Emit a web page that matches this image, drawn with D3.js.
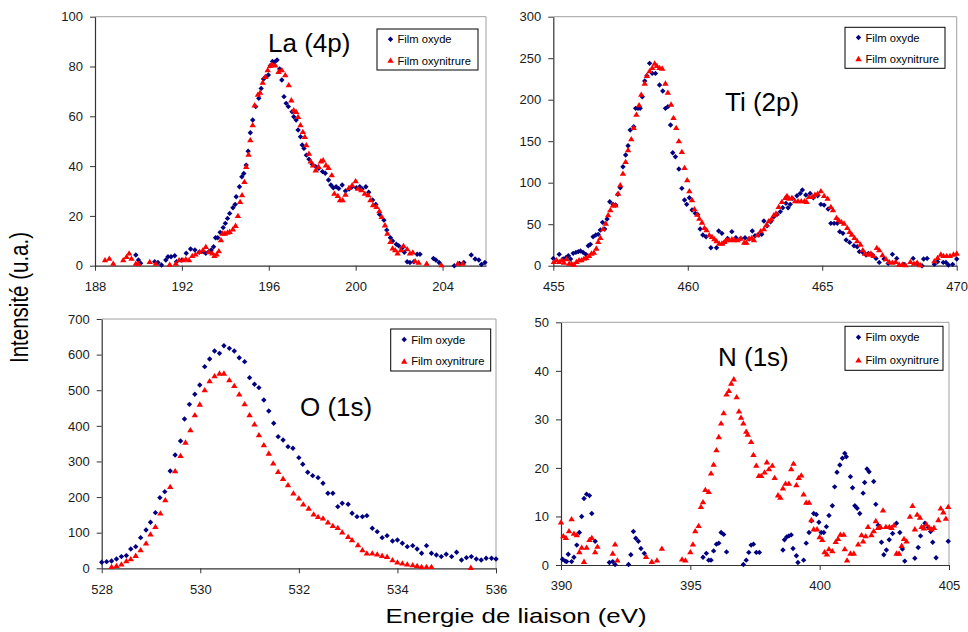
<!DOCTYPE html>
<html><head><meta charset="utf-8">
<script src="https://cdn.jsdelivr.net/npm/d3@7"></script>
<style>
body{margin:0;background:#fff;}
text{font-family:"Liberation Sans",Arial,sans-serif;}
</style></head><body>
<svg id="c" width="968" height="632"></svg>
<script>
const seriesNames = ["Film oxyde", "Film oxynitrure"];
const xTitle = "Energie de liaison (eV)";
const yTitle = "Intensité (u.a.)";

// ---- La (4p) ----
const laTicksX = [188, 192, 196, 200, 204];
const laTicksY = [0, 20, 40, 60, 80, 100];
const laOxyde = [[189.88,4.3],[190.0,2.3],[190.1,1],[190.75,1.6],[190.9,1.3],[191.06,0.3],[191.26,2.3],[191.36,3.6],[191.5,3.6],[191.67,4],[191.75,1.6],[192,2.3],[192.2,5],[192.4,6.7],[192.6,6.3],[192.8,5.4],[193,5.6],[193.1,5],[193.24,5.6],[193.35,6.3],[193.46,7.6],[193.55,11.2],[193.65,11.2],[193.76,13.4],[193.9,15.3],[194,17],[194.1,19],[194.2,21],[194.35,23.3],[194.45,24.6],[194.5,27.7],[194.65,31.7],[194.76,35.7],[194.85,37],[194.96,40.4],[195.05,46],[195.15,53.4],[195.26,58.5],[195.4,63.9],[195.54,67.2],[195.65,71.2],[195.76,75],[195.86,75.9],[195.98,76.6],[196.07,80.3],[196.17,82],[196.26,81.7],[196.38,82.6],[196.5,79],[196.6,74.6],[196.7,67.9],[196.8,65.2],[196.9,63.9],[197.07,61.8],[197.15,59.8],[197.26,58.5],[197.35,54.5],[197.46,51.8],[197.54,48.5],[197.62,47.1],[197.73,44.4],[197.85,42.8],[198,40.7],[198.16,39.8],[198.3,39.1],[198.47,37.8],[198.6,37.1],[198.75,34.4],[198.86,32.4],[198.97,31.3],[199.1,31.7],[199.22,31],[199.38,32.4],[199.53,30],[199.7,30.8],[199.84,31.7],[200.03,31.3],[200.19,31.7],[200.3,30.8],[200.47,31.7],[200.6,29.5],[200.78,26.4],[200.93,24.6],[201.1,20.6],[201.3,18.3],[201.43,14.3],[201.6,11.2],[201.7,9.9],[201.87,8.6],[201.98,8],[202.13,7],[202.24,5.4],[202.37,1.6],[202.5,1.3],[202.68,1.6],[202.83,4.6],[202.96,4.6],[203.58,2.9],[203.69,2.3],[203.84,1.3],[204.54,0],[204.78,0.9],[204.98,1.3],[205.32,4.3],[205.5,2.7],[205.67,2.3],[205.79,0.5],[205.95,1.3]];
const laOxynitrure = [[188.46,2.3],[188.66,2.9],[188.84,0.9],[189.3,2.3],[189.45,3.6],[189.57,5],[189.68,2.9],[189.88,0.9],[190.0,0.9],[190.52,1.6],[190.8,0.9],[191.44,0.5],[191.72,0.9],[191.87,2.3],[192.05,2.3],[192.18,2.7],[192.33,2.3],[192.48,4],[192.63,4.6],[192.82,5.6],[192.97,6.3],[193.1,7.6],[193.24,5.6],[193.4,5],[193.5,4],[193.6,4.6],[193.7,5.9],[193.8,10.3],[193.87,13],[193.98,13],[194.1,13.4],[194.2,13.7],[194.35,14.7],[194.47,16.1],[194.58,20.1],[194.68,25.7],[194.77,28.4],[194.88,33.7],[194.96,39.8],[195.07,44.7],[195.15,50.5],[195.26,56.5],[195.35,64.5],[195.5,68.8],[195.6,69.6],[195.72,73.6],[195.84,75.9],[195.95,78.6],[196.06,80.3],[196.14,80.9],[196.3,80.5],[196.45,77.9],[196.6,78.6],[196.76,76.6],[196.92,72.6],[197.04,66.5],[197.15,62.5],[197.26,61.8],[197.35,59.8],[197.46,56.5],[197.57,53.8],[197.66,51.8],[197.73,48.5],[197.85,45.1],[197.93,42],[198.04,40.4],[198.16,38.4],[198.29,39.8],[198.4,42],[198.5,42.4],[198.63,40.4],[198.75,39.4],[198.9,36.4],[199.02,29],[199.18,28.1],[199.28,26.4],[199.4,26.4],[199.53,28.6],[199.69,31.3],[199.84,32.4],[200,34],[200.1,31],[200.26,30.4],[200.42,29],[200.58,28.4],[200.68,26.4],[200.8,24.4],[200.96,23.7],[201.09,22],[201.2,19.7],[201.35,16.3],[201.46,13],[201.6,9.6],[201.7,7],[201.82,6.3],[201.93,5],[202.08,6.3],[202.2,8],[202.37,6.7],[202.5,5],[202.63,5.4],[202.74,1.9],[202.9,1.3],[203.27,0.9],[203.95,0.3],[204.7,0.9],[204.93,0.9]];

// ---- Ti (2p) ----
const tiTicksX = [455, 460, 465, 470];
const tiTicksY = [0, 50, 100, 150, 200, 250, 300];
const tiOxyde = [[455,8.8],[455.22,13.7],[455.37,8],[455.47,9.6],[455.56,12],[455.64,8],[455.74,14.9],[455.84,16],[455.93,16.9],[456.01,17.7],[456.11,16],[456.21,13.7],[456.3,24.1],[456.38,25.7],[456.48,34.9],[456.58,36.9],[456.67,37.8],[456.75,43],[456.83,52.2],[456.91,44.2],[457,56.2],[457.1,77.1],[457.22,73.9],[457.32,73],[457.4,86],[457.49,94],[457.59,119.3],[457.69,133.3],[457.78,144.6],[457.86,163.5],[457.99,167.5],[458.06,189.6],[458.15,189.6],[458.23,189.6],[458.31,203.6],[458.4,222.5],[458.48,228.9],[458.58,243.8],[458.68,231.7],[458.8,231.7],[458.95,217.7],[459.07,210.4],[459.17,189.6],[459.26,191.6],[459.36,169.5],[459.44,136.1],[459.54,131.3],[459.67,116.5],[459.78,93.2],[459.88,79.1],[459.96,73.9],[460.06,81.9],[460.16,67.1],[460.28,63.1],[460.37,61.8],[460.46,44.2],[460.56,36.9],[460.68,34.9],[460.86,21.7],[461.07,21.7],[461.15,41.8],[461.27,39],[461.36,28.1],[461.48,32.9],[461.64,41],[461.79,33.7],[461.97,32.9],[462.13,33.7],[462.28,32.1],[462.4,41.8],[462.5,36.1],[462.62,36.9],[462.75,37.8],[462.83,53.8],[462.95,48.2],[463.08,53],[463.2,59],[463.32,61.8],[463.44,65.1],[463.53,69.9],[463.65,75.1],[463.73,69.9],[463.81,73.9],[463.9,81.1],[464.06,84.3],[464.18,87.1],[464.26,91.2],[464.39,85.1],[464.55,87.1],[464.67,81.9],[464.83,84.3],[464.95,73.9],[465.07,73],[465.22,68.3],[465.32,51],[465.44,51],[465.56,51],[465.65,41],[465.77,39],[465.89,30.9],[466.02,28.1],[466.18,24.1],[466.3,22.9],[466.38,16.9],[466.51,16],[466.63,12.9],[466.72,14.9],[466.87,12.9],[467,8.8],[467.12,4],[467.3,8],[467.45,2.8],[467.61,13.7],[467.77,8.8],[468.04,1.6],[468.38,8.8],[468.53,2.8],[468.71,0],[468.77,8],[468.9,8.8],[469.17,1.6],[469.29,4.8],[469.5,4],[469.6,4],[469.69,0.8],[469.85,1.6],[470,8]];
const tiOxynitrure = [[455.02,4.8],[455.12,6.8],[455.22,4.8],[455.31,6.8],[455.4,4],[455.49,8],[455.59,2.8],[455.68,2.8],[455.77,1.6],[455.86,4.8],[455.96,6.8],[456.05,6.8],[456.14,8.8],[456.23,9.6],[456.33,12],[456.42,14.9],[456.51,16],[456.6,20.9],[456.67,28.9],[456.75,33.7],[456.85,44.2],[456.95,51],[457.04,61],[457.12,67.1],[457.22,73],[457.31,73],[457.41,87.1],[457.49,97.2],[457.59,111.2],[457.69,125.3],[457.78,139.4],[457.9,152.6],[457.99,166.3],[458.09,182.3],[458.19,193.6],[458.27,206.4],[458.4,219.7],[458.48,228.9],[458.58,234.5],[458.68,238.6],[458.77,243.8],[458.85,241],[458.95,238.6],[459.05,237.8],[459.17,219.7],[459.26,208.8],[459.38,194.4],[459.47,178.3],[459.57,166.3],[459.67,150.2],[459.78,137.3],[459.88,118.1],[459.98,103.2],[460.06,90],[460.16,79.1],[460.25,68.3],[460.35,61.8],[460.43,57],[460.53,52.2],[460.62,45.8],[460.7,43],[460.8,36.9],[460.9,34.9],[460.99,32.1],[461.07,29.7],[461.17,26.9],[461.27,26.9],[461.36,28.9],[461.44,30.9],[461.54,30.9],[461.64,32.1],[461.73,30.9],[461.85,30.9],[461.97,32.9],[462.1,28.1],[462.18,28.1],[462.28,32.9],[462.38,33.7],[462.46,30.9],[462.59,36.9],[462.71,41.8],[462.83,44.2],[462.92,49],[463.01,53.8],[463.11,56.2],[463.2,61],[463.28,63.1],[463.38,71.1],[463.5,77.1],[463.63,81.9],[463.69,84.3],[463.77,81.1],[463.87,81.9],[463.99,77.9],[464.1,77.9],[464.22,77.9],[464.34,77.9],[464.42,77.1],[464.51,83.1],[464.63,83.1],[464.73,85.9],[464.83,87.1],[464.95,90],[465.07,84.3],[465.2,81.1],[465.32,71.1],[465.4,67.1],[465.53,57.8],[465.61,55],[465.71,53],[465.81,51],[465.93,45.8],[466.02,41],[466.1,37.8],[466.2,33.7],[466.3,29.7],[466.42,25.7],[466.51,18.9],[466.59,14.9],[466.72,13.7],[466.81,14.9],[466.91,12],[467.03,21.7],[467.12,18.9],[467.24,12.9],[467.37,8],[467.49,4.8],[467.61,4],[467.73,4.8],[467.86,1.6],[467.98,1.6],[468.1,0.8],[468.28,4.8],[468.41,2.8],[468.53,4],[468.65,0.8],[469.17,5.6],[469.29,9.6],[469.41,13.7],[469.51,12],[469.63,12],[469.75,12],[469.88,13.7],[470,14.9]];

// ---- O (1s) ----
const oTicksX = [528, 530, 532, 534, 536];
const oTicksY = [0, 100, 200, 300, 400, 500, 600, 700];
const oOxyde = [[528,16.8],[528.1,18.7],[528.2,20.6],[528.3,26.2],[528.4,32.8],[528.5,35.6],[528.59,54.3],[528.69,60.8],[528.79,86.1],[528.9,107.6],[528.99,129.1],[529.09,156.3],[529.18,198.4],[529.28,215.2],[529.39,273.3],[529.49,318.2],[529.6,357.5],[529.68,419.2],[529.78,460.4],[529.89,488.5],[529.99,514.7],[530.09,566.2],[530.19,587.7],[530.29,610.2],[530.39,603.6],[530.48,625.1],[530.59,617.6],[530.69,610.2],[530.79,591.4],[530.9,580.2],[531,535.3],[531.1,516.6],[531.19,507.2],[531.29,472.6],[531.39,441.7],[531.49,407.1],[531.58,369.6],[531.68,360.3],[531.78,341.6],[531.88,336.9],[532,310.7],[532.08,292],[532.18,269.5],[532.28,260.2],[532.39,254.5],[532.49,238.6],[532.59,210.6],[532.69,210.6],[532.79,173.1],[532.88,182.5],[533,179.7],[533.08,154.4],[533.18,145],[533.29,145],[533.38,147.9],[533.49,112.3],[533.59,102.9],[533.69,86.1],[533.79,91.7],[533.9,76.7],[534,79.5],[534.1,70.2],[534.2,60.8],[534.31,63.6],[534.4,54.3],[534.49,42.1],[534.59,63.6],[534.69,42.1],[534.79,37.4],[534.89,32.8],[534.99,39.3],[535.1,32.8],[535.2,44.9],[535.3,23.4],[535.4,29.9],[535.5,32.8],[535.6,26.2],[535.7,23.4],[535.8,28.1],[535.91,28.1],[536,26.2]];
const oOxynitrure = [[528.2,4.7],[528.3,7.5],[528.4,11.2],[528.5,20.6],[528.59,26.2],[528.69,35.6],[528.79,51.5],[528.9,70.2],[528.99,95.5],[529.09,117],[529.19,154.4],[529.29,191.8],[529.39,229.3],[529.49,273.3],[529.6,316.3],[529.7,353.7],[529.8,388.4],[529.89,430.5],[529.99,460.4],[530.09,500.7],[530.19,525.9],[530.29,540],[530.39,547.4],[530.48,547.4],[530.59,528.7],[530.69,512.8],[530.79,488.5],[530.9,461.3],[531,430.5],[531.1,404.3],[531.19,374.3],[531.29,346.3],[531.39,322.8],[531.48,294.8],[531.58,271.4],[531.68,251.8],[531.78,234],[531.89,210.6],[532,196.5],[532.09,179.7],[532.2,168.4],[532.3,151.6],[532.39,145],[532.49,140.4],[532.59,129.1],[532.69,119.8],[532.79,114.2],[532.88,101.1],[533,88.9],[533.08,79.5],[533.2,65.5],[533.29,51.5],[533.38,42.1],[533.49,42.1],[533.59,39.3],[533.69,35.6],[533.79,32.8],[533.9,23.4],[534,16.8],[534.1,14],[534.2,11.2],[534.31,9.4],[534.4,7.5],[534.49,4.7],[534.59,4.7],[534.69,4.7],[535.49,1.9]];

// ---- N (1s) ----
const nTicksX = [390, 395, 400, 405];
const nTicksY = [0, 10, 20, 30, 40, 50];
const nOxyde = [[390.06,1.2],[390.16,0.8],[390.22,0.7],[390.28,2.2],[390.41,0.7],[390.5,1.6],[390.61,4.1],[390.71,6.7],[390.8,10],[390.89,13.7],[390.99,14.6],[391.1,14.3],[391.19,10.6],[391.32,4.9],[391.87,0.5],[392,0.7],[392.09,0.1],[392.61,0.1],[392.7,2.1],[392.8,6.9],[392.89,5.5],[392.99,4.9],[393.09,3.4],[393.22,2.4],[395.49,1.6],[395.62,2.4],[395.71,1],[395.8,1],[395.9,2.9],[396.01,4.3],[396.1,4.5],[396.19,6.7],[396.29,6.3],[396.4,2.7],[397.05,0.1],[397.16,1],[397.26,2.6],[397.35,4.1],[397.44,4.3],[397.55,2.6],[397.67,2.6],[398.58,3.1],[398.64,5.2],[398.73,5.8],[398.81,6],[398.9,6.2],[398.97,3.4],[399.1,1.9],[399.16,0.5],[399.38,1],[399.48,4.5],[399.59,6.7],[399.68,9.1],[399.77,10.6],[399.87,10.4],[399.97,8.8],[400.06,6.7],[400.16,6.7],[400.26,7.9],[400.36,10.2],[400.49,12.2],[400.58,16.1],[400.67,19.1],[400.78,20.6],[400.88,22],[400.97,23],[401.03,22.3],[401.19,18.2],[401.27,15.9],[401.36,12.2],[401.45,11.7],[401.55,10.6],[401.68,14.8],[401.74,17],[401.83,19.8],[401.91,19.2],[402.09,17.2],[402.17,12.5],[402.26,8.2],[402.39,4.7],[402.48,2.1],[402.58,3.1],[402.69,5.2],[402.82,6.5],[402.97,8.6],[403.1,6.7],[403.2,3.3],[403.29,0.8],[403.68,1.4],[403.81,3.6],[403.9,6],[404,7.7],[404.07,8.6],[404.2,7.7],[404.29,6.9],[404.37,4.7],[404.5,1.5],[404.97,4.9]];
const nOxynitrure = [[390,8.8],[390.09,6],[390.19,5.6],[390.31,7],[390.41,9.5],[390.5,6.5],[390.61,6.2],[390.71,2.7],[390.8,3.6],[390.89,0.7],[390.99,3.6],[391.1,5.2],[391.19,5.6],[391.32,2.7],[391.41,3.8],[392,2.4],[392.09,4.3],[392.18,1],[393.29,1.7],[393.51,0.7],[393.71,1],[393.9,3.4],[394.68,1.2],[394.81,1],[395,2.7],[395.1,4.3],[395.19,7],[395.32,8.1],[395.41,12],[395.49,13],[395.58,15.5],[395.71,15.1],[395.8,18.9],[395.9,20.7],[396.01,23.7],[396.1,26.4],[396.19,29.2],[396.29,31.3],[396.4,35.2],[396.49,35.9],[396.58,37.4],[396.68,38.3],[396.79,34.6],[396.88,31.7],[396.96,30.4],[397.05,29.2],[397.16,27.5],[397.22,26.9],[397.35,25.4],[397.44,22.7],[397.55,20.5],[397.65,18.4],[397.74,18.4],[397.87,19.1],[397.96,21.2],[398.04,19.8],[398.17,20.5],[398.26,18],[398.39,14.4],[398.48,13.9],[398.58,15.8],[398.68,16.8],[398.81,16.8],[398.9,19.8],[398.99,20.9],[399.1,16.5],[399.19,18],[399.29,18.5],[399.38,14.6],[399.48,12.9],[399.59,12.9],[399.68,9.3],[399.77,7.4],[399.9,7.4],[400,5.8],[400.1,5.2],[400.19,2.7],[400.28,2.2],[400.36,3.3],[400.49,2.9],[400.62,4.8],[400.71,5.4],[400.8,6.3],[400.93,6.3],[400.97,3.3],[401.06,1],[401.19,2.4],[401.32,2.4],[401.49,4.3],[401.62,6.2],[401.68,4.9],[401.78,6],[401.87,7.9],[402,6.2],[402.09,7],[402.17,9.1],[402.26,7.7],[402.35,7.9],[402.45,11.3],[402.56,7.9],[402.69,7.9],[402.78,7.7],[402.87,8.2],[402.97,2.4],[403.07,2.4],[403.17,4],[403.26,5.4],[403.36,4.9],[403.49,10],[403.59,12.2],[403.68,7.4],[403.77,10.4],[403.88,9.8],[403.94,7.9],[404.03,7.6],[404.13,8.4],[404.24,7.7],[404.33,7.4],[404.42,7.7],[404.59,9.3],[404.68,11.7],[404.78,10.9],[404.88,9.6],[404.97,12]];

// ---- layout ----
const FONT = "'Liberation Sans', Arial, sans-serif";
const panels = [
  {title:"La (4p)", xDom:[188,206], yDom:[0,100], xt:laTicksX, yt:laTicksY, s1:laOxyde, s2:laOxynitrure,
   box:{l:95,r:486,t:16.7,b:265.7}, titleXY:[268,52], leg:{x:377,y:29,w:101,h:41}},
  {title:"Ti (2p)", xDom:[455,470], yDom:[0,300], xt:tiTicksX, yt:tiTicksY, s1:tiOxyde, s2:tiOxynitrure,
   box:{l:553.3,r:956.7,t:16.7,b:265.7}, titleXY:[725,111], leg:{x:845,y:27.3,w:100,h:41}},
  {title:"O (1s)", xDom:[528,536], yDom:[0,700], xt:oTicksX, yt:oTicksY, s1:oOxyde, s2:oOxynitrure,
   box:{l:101.7,r:496,t:319,b:568.3}, titleXY:[300,416], leg:{x:390.7,y:329,w:100,h:42}},
  {title:"N (1s)", xDom:[390,405], yDom:[0,50], xt:nTicksX, yt:nTicksY, s1:nOxyde, s2:nOxynitrure,
   box:{l:561,r:949,t:322.3,b:565}, titleXY:[718,366], leg:{x:845,y:326.3,w:98,h:44}}
];

const BLUE = "#000080", RED = "#ff0000";
const diamond = "M0,-2.7L2.7,0L0,2.7L-2.7,0Z";
const triangle = "M0,-3L3.2,2.3L-3.2,2.3Z";

const svg = d3.select("#c");
svg.append("rect").attr("width",968).attr("height",632).attr("fill","#fff");

panels.forEach(p => {
  const x = d3.scaleLinear().domain(p.xDom).range([p.box.l, p.box.r]);
  const y = d3.scaleLinear().domain(p.yDom).range([p.box.b, p.box.t]);
  const g = svg.append("g");

  g.append("path")
    .attr("d", `M${p.box.l},${p.box.t}H${p.box.r}V${p.box.b}`)
    .attr("fill","none").attr("stroke","#a0a0a0").attr("stroke-width",1);

  const ax = g.append("g").attr("transform",`translate(0,${p.box.b})`)
    .call(d3.axisBottom(x).tickValues(p.xt).tickSize(5).tickSizeOuter(0).tickPadding(11).tickFormat(d3.format("d")));
  const ay = g.append("g").attr("transform",`translate(${p.box.l},0)`)
    .call(d3.axisLeft(y).tickValues(p.yt).tickSize(5).tickSizeOuter(0).tickPadding(7).tickFormat(d3.format("d")));
  [ax, ay].forEach(a => {
    a.attr("font-family", FONT).attr("font-size", 13);
    a.select(".domain").attr("stroke","#333").attr("stroke-width",1.2);
    a.selectAll(".tick line").attr("stroke","#333");
    a.selectAll(".tick text").attr("fill","#1a1a1a").style("font-size","13px").style("font-family", FONT);
  });

  g.append("g").selectAll("path").data(p.s1).join("path")
    .attr("d", diamond).attr("fill", BLUE)
    .attr("transform", d => `translate(${x(d[0])},${y(d[1])})`);
  g.append("g").selectAll("path").data(p.s2).join("path")
    .attr("d", triangle).attr("fill", RED)
    .attr("transform", d => `translate(${x(d[0])},${y(d[1])})`);

  g.append("text").attr("x", p.titleXY[0]).attr("y", p.titleXY[1])
    .style("font-size","26px").style("font-family", FONT).attr("fill","#000").text(p.title);

  const L = p.leg;
  const lg = g.append("g").attr("transform",`translate(${L.x},${L.y})`);
  lg.append("rect").attr("width",L.w).attr("height",L.h).attr("fill","#fff").attr("stroke","#000").attr("stroke-width",1);
  const rows = [{name:seriesNames[0], shape:diamond, col:BLUE, dy:L.h*0.25},
                {name:seriesNames[1], shape:triangle, col:RED, dy:L.h*0.77}];
  rows.forEach(r => {
    lg.append("path").attr("d", r.shape).attr("fill", r.col).attr("transform",`translate(13.5,${r.dy})`);
    lg.append("text").attr("x",20.5).attr("y",r.dy).attr("dy","0.36em")
      .style("font-size","11.2px").style("font-family", FONT).attr("fill","#000").text(r.name);
  });
});

svg.append("text").attr("text-anchor","middle")
  .attr("transform","translate(516,623) scale(1.23,1)")
  .style("font-size","21px").style("font-family", FONT).attr("fill","#000").text(xTitle);
svg.append("text").attr("text-anchor","middle")
  .attr("transform","translate(28,297.5) scale(1.22,1) rotate(-90)")
  .style("font-size","20.5px").style("font-family", FONT).attr("fill","#000").text(yTitle);
</script>
</body></html>
